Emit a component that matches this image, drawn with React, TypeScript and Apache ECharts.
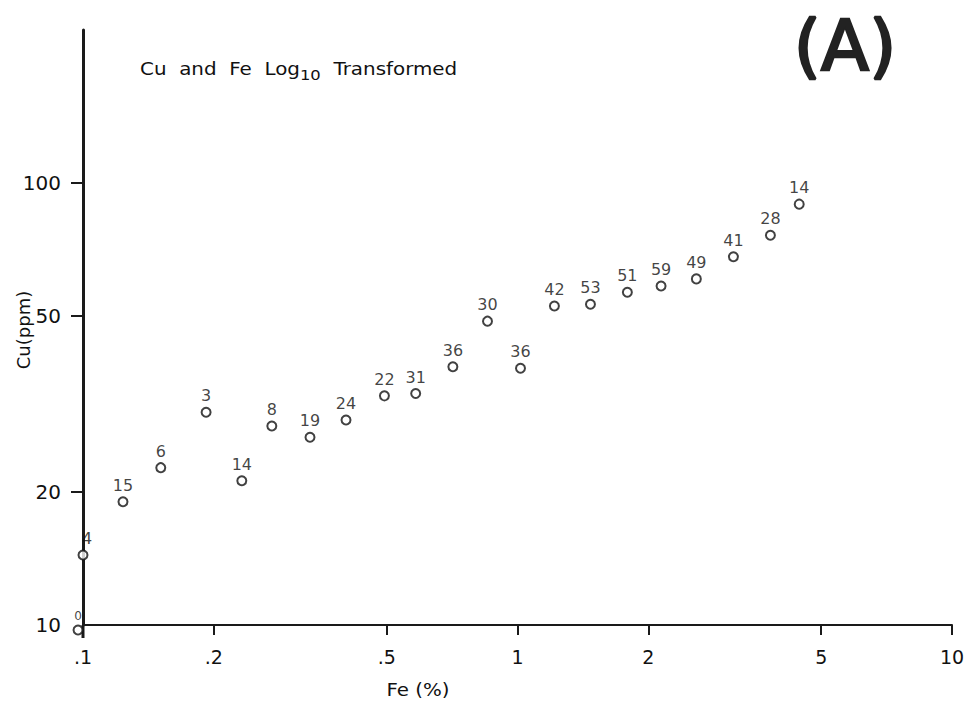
import React, { useEffect, useRef } from "react";
import * as echarts from "echarts";

// Fe (%) values (x), Cu (ppm) values (y), and the sample counts printed above each point
const feValues = [0.0974, 0.1, 0.1236, 0.151, 0.192, 0.232, 0.272, 0.333, 0.403, 0.494, 0.583, 0.71, 0.853, 1.016, 1.216, 1.472, 1.79, 2.14, 2.58, 3.14, 3.82, 4.45];
const cuValues = [9.74, 14.4, 19.0, 22.7, 30.3, 21.2, 28.2, 26.6, 29.1, 33.0, 33.4, 38.4, 48.7, 38.1, 52.7, 53.2, 56.6, 58.5, 60.7, 68.1, 76.2, 89.6];
const counts = ["0", "4", "15", "6", "3", "14", "8", "19", "24", "22", "31", "36", "30", "36", "42", "53", "51", "59", "49", "41", "28", "14"];

const xTickValues = [0.2, 0.5, 1, 2, 5, 10];
const xLabelValues = [0.1, 0.2, 0.5, 1, 2, 5, 10];
const yTickValues = [20, 50, 100];
const yLabelValues = [10, 20, 50, 100];

const FONT = "DejaVu Sans";
const INK = "#111111";

export default function App() {
  const ref = useRef<HTMLDivElement>(null);
  useEffect(() => {
    if (!ref.current) return;
    const chart = echarts.init(ref.current, null, { renderer: "svg" });
    const data = feValues.map((x, i) => ({
      value: [x, cuValues[i]],
      label: {
        formatter: counts[i],
        color: INK,
        fontSize: i === 0 ? 12 : 16,
        offset: i === 1 ? [4, 0] : [0, 0],
      },
    }));
    chart.setOption({
      animation: false,
      backgroundColor: "#ffffff",
      grid: { left: 83, right: 13, top: 30, bottom: 78, containLabel: false, outerBoundsMode: "none" },
      xAxis: {
        type: "log",
        logBase: 10,
        min: 0.1,
        max: 10,
        axisLine: { show: true, lineStyle: { color: "#1a1a1a", width: 2 } },
        axisTick: {
          show: true,
          customValues: xTickValues,
          length: 10,
          inside: false,
          lineStyle: { color: "#1a1a1a", width: 2 },
        },
        axisLabel: {
          show: true,
          customValues: xLabelValues,
          margin: 22,
          color: INK,
          fontSize: 19,
          fontFamily: FONT,
          formatter: (v: number) => (v < 1 ? String(v).replace(/^0/, "") : String(v)),
        },
        splitLine: { show: false },
        minorTick: { show: false },
      },
      yAxis: {
        type: "log",
        logBase: 10,
        min: 10,
        max: 222,
        axisLine: { show: true, lineStyle: { color: "#1a1a1a", width: 3 } },
        axisTick: {
          show: true,
          customValues: yTickValues,
          length: 12,
          inside: false,
          lineStyle: { color: "#1a1a1a", width: 2 },
        },
        axisLabel: {
          show: true,
          customValues: yLabelValues,
          margin: 22,
          color: INK,
          fontSize: 20,
          fontFamily: FONT,
        },
        splitLine: { show: false },
        minorTick: { show: false },
      },
      series: [
        {
          type: "scatter",
          clip: false,
          symbol: "emptyCircle",
          symbolSize: 9,
          itemStyle: { color: INK, borderColor: INK, borderWidth: 1.6 },
          label: {
            show: true,
            position: "top",
            distance: 3,
            color: INK,
            fontFamily: FONT,
            fontSize: 16,
          },
          data,
        },
      ],
      graphic: [
        {
          type: "line",
          shape: { x1: 83, y1: 625, x2: 83, y2: 638 },
          style: { stroke: "#1a1a1a", lineWidth: 3 },
        },
        {
          type: "text",
          x: 140,
          y: 57,
          scaleX: 1.17,
          style: {
            text: "{a|Cu  and  Fe  Log}{s|10}{a|  Transformed}",
            rich: {
              a: { fontSize: 17, fontFamily: FONT, fill: INK, lineHeight: 24 },
              s: { fontSize: 14, fontFamily: FONT, fill: INK, padding: [12, 0, 0, 0], lineHeight: 24 },
            },
          },
        },
        {
          type: "text",
          x: 845,
          y: 46,
          style: {
            text: "(A)",
            fontSize: 70,
            fontFamily: FONT,
            fill: "#222",
            stroke: "#222",
            lineWidth: 2.5,
            align: "center",
            verticalAlign: "middle",
          },
        },
        {
          type: "text",
          x: 23,
          y: 330,
          rotation: Math.PI / 2,
          style: {
            text: "Cu(ppm)",
            fontSize: 18,
            fontFamily: FONT,
            fill: INK,
            align: "center",
            verticalAlign: "middle",
          },
        },
        {
          type: "text",
          x: 418,
          y: 689,
          scaleX: 1.1,
          style: {
            text: "Fe (%)",
            fontSize: 18,
            fontFamily: FONT,
            fill: INK,
            align: "center",
            verticalAlign: "middle",
          },
        },
      ],
    });
    return () => chart.dispose();
  }, []);
  return (
    <div
      ref={ref}
      style={{ position: "fixed", left: 0, top: 0, width: 965, height: 703 }}
    />
  );
}
